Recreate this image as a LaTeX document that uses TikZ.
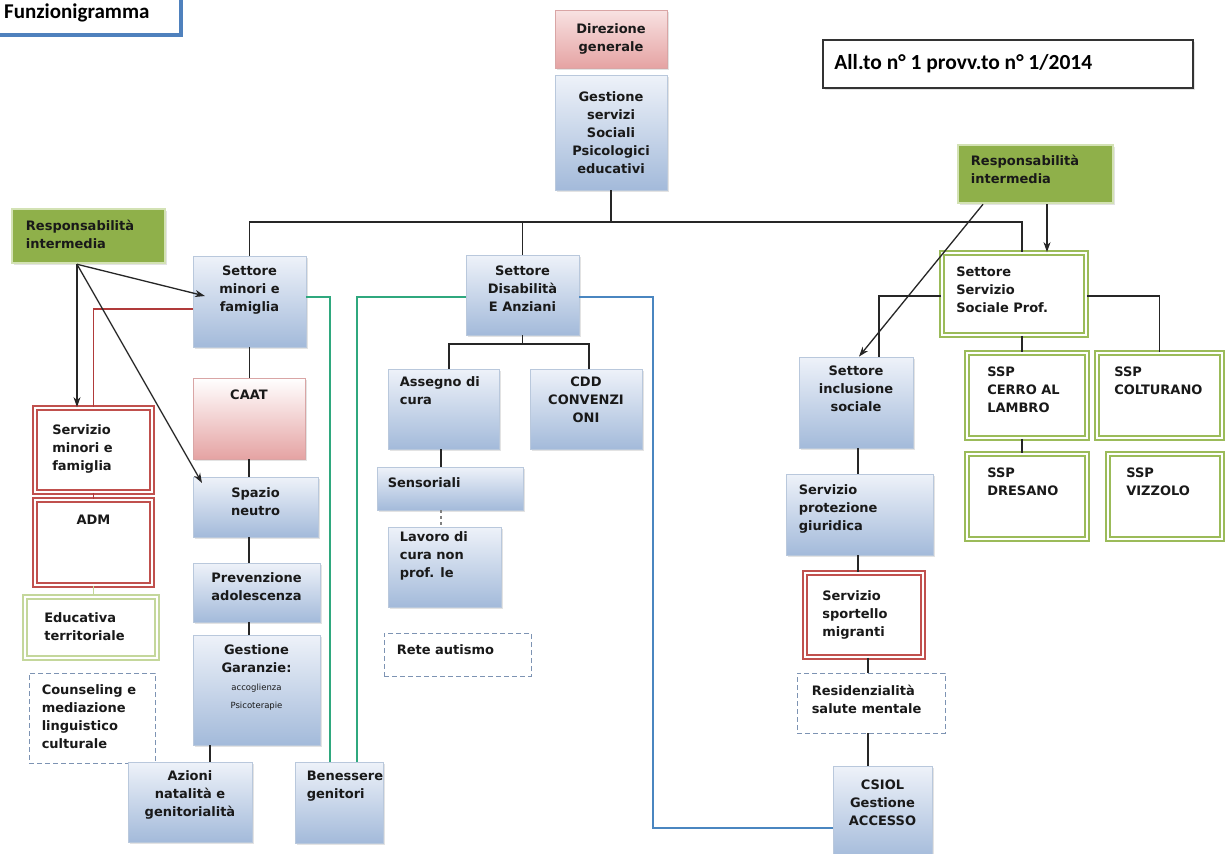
\documentclass[tikz,border=0pt]{standalone}
\usepackage{fontspec}
\setmainfont{DejaVu Sans}
\newfontfamily\calib{Carlito}
\usetikzlibrary{arrows.meta,shadows}
\definecolor{tblue}{HTML}{4F81BD}
\definecolor{btop}{HTML}{EEF2F9}
\definecolor{bbot}{HTML}{A3BADA}
\definecolor{bbord}{HTML}{B9C8DC}
\definecolor{ptop}{HTML}{F8E2E2}
\definecolor{pbot}{HTML}{E5A3A3}
\definecolor{pbord}{HTML}{D9A5A5}
\definecolor{gfill}{HTML}{8FB04A}
\definecolor{gbord}{HTML}{D3E2B4}
\definecolor{gdbl}{HTML}{9BBB59}
\definecolor{gdbl2}{HTML}{C4D79B}
\definecolor{rdbl}{HTML}{C0504D}
\definecolor{dashc}{HTML}{7D93B3}
\definecolor{tealc}{HTML}{2FA87E}
\definecolor{bluec}{HTML}{4A86C0}
\definecolor{redc}{HTML}{B03A3A}
\newcommand\bt{\fontsize{13}{18}\selectfont\bfseries}
\newcommand\bx[6]{\node[#2, inner sep=0pt, minimum width={(#5)-(#3)}, minimum height={(#6)-(#4)}] (#1) at ({((#3)+(#5))/2},{((#4)+(#6))/2}) {};}
\tikzset{
  conn/.style={draw=black!85, line width=1.3pt},
  arr/.style={conn, -{Stealth[length=10pt,width=7pt]}},
  redln/.style={draw=redc, line width=1.2pt},
  greenln/.style={draw=gdbl2, line width=1.1pt},
  tealln/.style={draw=tealc, line width=1.3pt},
  blueln/.style={draw=bluec, line width=1.3pt},
  shad/.style={drop shadow={opacity=0.22, shadow xshift=1.5pt, shadow yshift=-1.5pt}},
  bluebox/.style={draw=bbord, line width=0.8pt, top color=btop, bottom color=bbot, shad},
  pinkbox/.style={draw=pbord, line width=0.8pt, top color=ptop, bottom color=pbot, shad},
  caatbox/.style={draw=pbord, line width=0.8pt, top color=white, bottom color=pbot, shad},
  respbox/.style={draw=gbord, line width=2.5pt, fill=gfill, shad},
  gdouble/.style={draw=gdbl, line width=1.8pt, double=white, double distance=1.6pt, fill=white},
  gdoublel/.style={draw=gdbl2, line width=1.8pt, double=white, double distance=1.6pt, fill=white},
  rdouble/.style={draw=rdbl, line width=1.8pt, double=white, double distance=1.6pt, fill=white},
  dashbox/.style={draw=dashc, line width=0.9pt, dash pattern=on 5pt off 3pt, fill=white},
  plainbox/.style={draw=black!80, line width=1.6pt, fill=white, shad},
  titlebox/.style={draw=tblue, line width=4.5pt, fill=white},
  tx/.style={inner sep=0pt, font=\bt, text=black!90},
}
\begin{document}
\begin{tikzpicture}[x=1pt,y=-1pt]
\useasboundingbox (0,0) rectangle (1232,854);
\fill[white] (0,0) rectangle (1232,854);

\coordinate (bus) at (0,222);
\coordinate (dbus) at (0,344);
\coordinate (bcorner) at (653,828);

% ---------- boxes
\bx{title}{titlebox}{-20}{-20}{181}{35}
\bx{dir}{pinkbox}{555}{10}{667}{68}
\bx{gest}{bluebox}{555}{75}{667}{190}
\bx{allto}{plainbox}{823}{40}{1193}{88}
\bx{respL}{respbox}{12}{209}{165}{263}
\bx{respR}{respbox}{958}{145}{1113}{203}
\bx{min}{bluebox}{193}{256}{306}{347}
\bx{dis}{bluebox}{466}{255}{579}{335}
\bx{sssp}{gdouble}{942}{253}{1086}{335}
\bx{caat}{caatbox}{193}{378}{305}{459}
\bx{sermin}{rdouble}{35}{408}{152}{492}
\bx{spa}{bluebox}{193}{477}{318}{537}
\bx{adm}{rdouble}{35}{500}{152}{585}
\bx{prev}{bluebox}{193}{563}{320}{622}
\bx{edu}{gdoublel}{25}{597}{157}{658}
\bx{gar}{bluebox}{193}{635}{320}{745}
\bx{coun}{dashbox}{29}{673}{155}{763}
\bx{az}{bluebox}{128}{762}{252}{842}
\bx{ben}{bluebox}{295}{762}{383}{843}
\bx{ass}{bluebox}{388}{369}{499}{449}
\bx{cdd}{bluebox}{530}{369}{642}{449}
\bx{sens}{bluebox}{377}{467}{523}{510}
\bx{lav}{bluebox}{388}{527}{501}{607}
\bx{rete}{dashbox}{384}{633}{531}{676}
\bx{inc}{bluebox}{799}{357}{913}{448}
\bx{cerro}{gdouble}{967}{353}{1087}{438}
\bx{colt}{gdouble}{1097}{353}{1222}{438}
\bx{dres}{gdouble}{967}{454}{1087}{539}
\bx{vizz}{gdouble}{1108}{454}{1222}{539}
\bx{prot}{bluebox}{786}{474}{933}{555}
\bx{spor}{rdouble}{805}{573}{923}{657}
\bx{res}{dashbox}{797}{673}{945}{733}
\bx{csiol}{bluebox}{833}{766}{932}{860}

% ---------- connectors
\draw[conn] (gest.south) -- (gest.south |- bus);
\draw[conn] (min.north) -- (min.north |- bus) -- ([xshift=8]sssp.north |- bus) -- ([xshift=8]sssp.north);
\draw[conn] (dis.north) -- (dis.north |- bus);
\draw[conn] (dis.south) -- (dis.south |- dbus);
\draw[conn] ([xshift=5.5]ass.north) -- ([xshift=5.5]ass.north |- dbus) -- ([xshift=3]cdd.north |- dbus) -- ([xshift=3]cdd.north);
\draw[conn] ([xshift=-2.5]ass.south) -- ([xshift=-2.5]ass.south |- sens.north);
\draw[conn, draw=gray, dashed] ([xshift=-2.5]ass.south |- sens.south) -- ([xshift=-2.5]ass.south |- lav.north);
\draw[conn] (min.south) -- (min.south |- caat.north);
\draw[conn] (caat.south) -- (caat.south |- spa.north);
\draw[conn] (caat.south |- spa.south) -- (caat.south |- prev.north);
\draw[conn] (caat.south |- prev.south) -- (caat.south |- gar.north);
\draw[conn] ([xshift=-46.5]gar.south) -- ([xshift=-46.5]gar.south |- az.north);
\draw[redln] ([yshift=-7.5]min.west) -| (sermin.north);
\draw[redln] (sermin.south) -- (adm.north);
\draw[greenln] (adm.south) -- (adm.south |- edu.north);
\draw[tealln] ([yshift=4.5]min.east) -| ([xshift=-9]ben.north);
\draw[tealln] ([yshift=-2]dis.west) -| ([xshift=18]ben.north);
\draw[blueln] ([yshift=-2]dis.east) -| (bcorner) -- (bcorner -| csiol.west);
\draw[conn] ([yshift=-2]sssp.west) -| ([xshift=23]inc.north);
\draw[conn] ([yshift=-2]sssp.east) -| (colt.north);
\draw[conn] ([xshift=8]sssp.south) -- ([xshift=8]sssp.south |- cerro.north);
\draw[conn] ([xshift=8]sssp.south |- cerro.south) -- ([xshift=8]sssp.south |- dres.north);
\draw[conn] ([xshift=2]inc.south) -- ([xshift=2]inc.south |- prot.north);
\draw[conn] ([xshift=2]inc.south |- prot.south) -- ([xshift=2]inc.south |- spor.north);
\draw[conn] ([xshift=4]spor.south) -- ([xshift=4]spor.south |- res.north);
\draw[conn] ([xshift=4]spor.south |- res.south) -- ([xshift=4]spor.south |- csiol.north);

% ---------- texts
\node[anchor=base west, inner sep=0pt, font=\calib\fontsize{21}{24}\selectfont\bfseries] (title-t) at (4,18) {Funzionigramma};
\node[anchor=west, inner sep=0pt, font=\calib\fontsize{21.5}{24}\selectfont\bfseries] (allto-t) at ([xshift=12]allto.west) {All.to n° 1 provv.to n° 1/2014};
\node[tx, align=center] (dir-t) at (dir.center) {Direzione\\generale};
\node[tx, align=center] (gest-t) at (gest.center) {Gestione\\servizi\\Sociali\\Psicologici\\educativi};
\node[tx, align=left, anchor=north west] (respL-t) at ([xshift=15,yshift=-12]respL.north west) {Responsabilità\\intermedia};
\node[tx, align=left, anchor=north west] (respR-t) at ([xshift=14,yshift=-11]respR.north west) {Responsabilità\\intermedia};
\node[tx, align=center, anchor=north] (min-t) at ([yshift=-10]min.north) {Settore\\minori e\\famiglia};
\node[tx, align=center, anchor=north] (dis-t) at ([yshift=-11]dis.north) {Settore\\Disabilità\\E Anziani};
\node[tx, align=left, anchor=north west] (sssp-t) at ([xshift=15,yshift=-15]sssp.north west) {Settore\\Servizio\\Sociale Prof.};
\node[tx, align=center, anchor=north] (caat-t) at ([yshift=-12]caat.north) {CAAT};
\node[tx, align=left, anchor=north west] (sermin-t) at ([xshift=18,yshift=-17]sermin.north west) {Servizio\\minori e\\famiglia};
\node[tx, align=center, anchor=north] (spa-t) at ([yshift=-11]spa.north) {Spazio\\neutro};
\node[tx, align=center, anchor=north] (adm-t) at ([yshift=-16]adm.north) {ADM};
\node[tx, align=center, anchor=north] (prev-t) at ([yshift=-10]prev.north) {Prevenzione\\adolescenza};
\node[tx, align=left, anchor=north west] (edu-t) at ([xshift=20,yshift=-16]edu.north west) {Educativa\\territoriale};
\node[tx, align=center, anchor=north] (gar-t) at ([yshift=-10]gar.north) {Gestione\\Garanzie:\\{\fontsize{8.5}{18}\selectfont\mdseries accoglienza}\\{\fontsize{8.5}{18}\selectfont\mdseries Psicoterapie}};
\node[tx, align=left, anchor=north west] (coun-t) at ([xshift=13,yshift=-12]coun.north west) {Counseling e\\mediazione\\linguistico\\culturale};
\node[tx, align=center, anchor=north] (az-t) at ([yshift=-9]az.north) {Azioni\\natalità e\\genitorialità};
\node[tx, align=left, anchor=north west] (ben-t) at ([xshift=12,yshift=-9]ben.north west) {Benessere\\genitori};
\node[tx, align=left, anchor=north west] (ass-t) at ([xshift=12,yshift=-8]ass.north west) {Assegno di\\cura};
\node[tx, align=center, anchor=north] (cdd-t) at ([yshift=-8]cdd.north) {CDD\\CONVENZI\\ONI};
\node[tx, align=left, anchor=north west] (sens-t) at ([xshift=11,yshift=-11]sens.north west) {Sensoriali};
\node[tx, align=left, anchor=north west] (lav-t) at ([xshift=12,yshift=-5]lav.north west) {Lavoro di\\cura non\\prof. le};
\node[tx, align=left, anchor=north west] (rete-t) at ([xshift=13,yshift=-12]rete.north west) {Rete autismo};
\node[tx, align=center, anchor=north] (inc-t) at ([yshift=-9]inc.north) {Settore\\inclusione\\sociale};
\node[tx, align=left, anchor=north west] (cerro-t) at ([xshift=21,yshift=-15]cerro.north west) {SSP\\CERRO AL\\LAMBRO};
\node[tx, align=left, anchor=north west] (colt-t) at ([xshift=18,yshift=-15]colt.north west) {SSP\\COLTURANO};
\node[tx, align=left, anchor=north west] (dres-t) at ([xshift=21,yshift=-15]dres.north west) {SSP\\DRESANO};
\node[tx, align=left, anchor=north west] (vizz-t) at ([xshift=19,yshift=-15]vizz.north west) {SSP\\VIZZOLO};
\node[tx, align=left, anchor=north west] (prot-t) at ([xshift=13,yshift=-11]prot.north west) {Servizio\\protezione\\giuridica};
\node[tx, align=left, anchor=north west] (spor-t) at ([xshift=18,yshift=-18]spor.north west) {Servizio\\sportello\\migranti};
\node[tx, align=left, anchor=north west] (res-t) at ([xshift=15,yshift=-12]res.north west) {Residenzialità\\salute mentale};
\node[tx, align=center, anchor=north] (csiol-t) at ([yshift=-14]csiol.north) {CSIOL\\Gestione\\ACCESSO};

% ---------- arrows (on top)
\draw[arr] ([xshift=-11.5]respL.south) -- ([xshift=-11.5]respL.south |- sermin.north);
\coordinate (tipmin) at (205,296);
\coordinate (tipspa) at (202,483);
\draw[arr] ([xshift=-11.5]respL.south) -- (tipmin);
\draw[arr] ([xshift=-11.5]respL.south) -- (tipspa);
\draw[arr] ([xshift=-52.5]respR.south) -- ([xshift=3]inc.north);
\draw[arr] ([xshift=11.5]respR.south) -- ([xshift=11.5]respR.south |- sssp.north);
\end{tikzpicture}
\end{document}
